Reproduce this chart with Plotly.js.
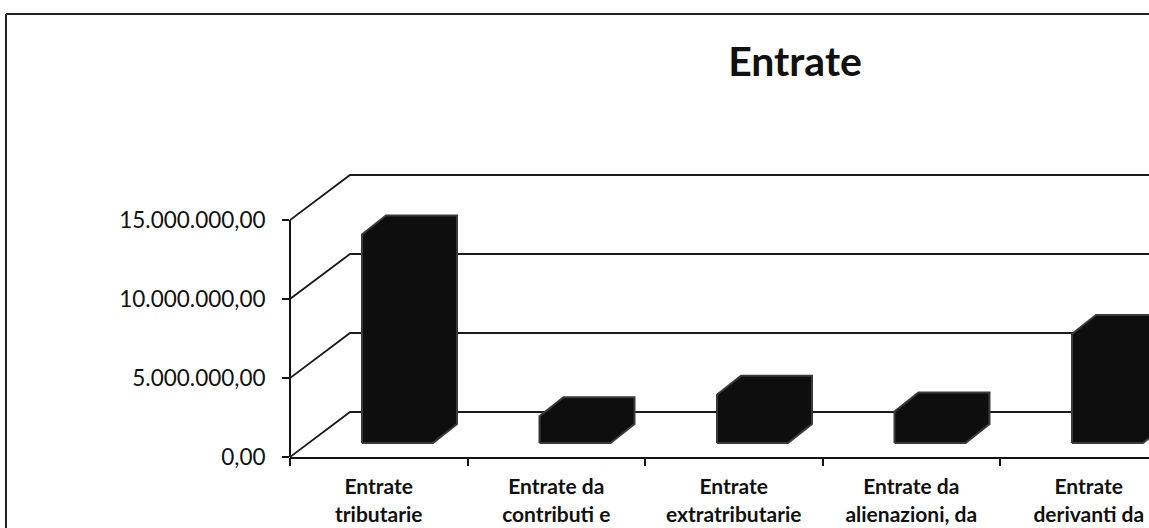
<!DOCTYPE html>
<html><head><meta charset="utf-8">
<script src="https://cdn.plot.ly/plotly-3.0.1.min.js"></script>
<style>html,body{margin:0;padding:0;background:#fff;}#chart{width:1149px;height:528px;}</style>
</head><body><div id="chart"></div>
<script>
// ---- data ----
const categories = ["Entrate<br>tributarie", "Entrate da<br>contributi e", "Entrate<br>extratributarie", "Entrate da<br>alienazioni, da", "Entrate<br>derivanti da"];
const values = [13200000, 1700000, 3050000, 2000000, 6900000];
const yTickValues = [0, 5000000, 10000000, 15000000];
const yTickLabels = ["0,00", "5.000.000,00", "10.000.000,00", "15.000.000,00"];
const chartTitle = "Entrate";

// ---- geometry (pixels) ----
const W = 1149, H = 528;
const plotLeft = 290, plotRight = 1149, plotBottom = 457, plotTop = 165;
const catPx = 177.5;
const pxPerUnit = 79 / 5000000;
const xPerPx = 1 / catPx;
const yPerPx = 1 / pxPerUnit;
const xRange = [-0.5, -0.5 + (plotRight - plotLeft) / catPx];
const yRange = [0, (plotBottom - plotTop) * yPerPx];
const plotH = plotBottom - plotTop, plotW = plotRight - plotLeft;

// back wall grid (3D offset)
const wallDx = 60 * xPerPx, wallDy = 45 * yPerPx;
const gx = [], gy = [];
yTickValues.forEach(v => {
  gx.push(xRange[0], xRange[0] + wallDx, xRange[1], null);
  gy.push(v, v + wallDy, v + wallDy, null);
});

// 3D bars (oblique boxes)
const barLeftOff = -16.75 * xPerPx, barFrontW = 71 * xPerPx;
const barDx = 24 * xPerPx, barDy = 19 * yPerPx, barBase = 14 * yPerPx;
const bx = [], by = [];
values.forEach((v, i) => {
  const xl = i + barLeftOff, b = barBase, t = barBase + v;
  bx.push(xl, xl, xl + barDx, xl + barFrontW + barDx, xl + barFrontW + barDx, xl + barFrontW, xl, null);
  by.push(b, t, t + barDy, t + barDy, b + barDy, b, b, null);
});

const dark = '#141414';
const traces = [
  {x: gx, y: gy, mode: 'lines', line: {color: '#1a1a1a', width: 1.8}, hoverinfo: 'skip', showlegend: false},
  {x: bx, y: by, mode: 'lines', fill: 'toself', fillcolor: '#0e0e0e', line: {color: '#3a3a3a', width: 2}, hoverinfo: 'skip', showlegend: false},
  {x: [0], y: [null], xaxis: 'x2', yaxis: 'y', mode: 'markers', hoverinfo: 'skip', showlegend: false}
];

const px2paperX = p => (p - plotLeft) / plotW;
const px2paperY = p => (plotBottom - p) / plotH;

const layout = {
  width: W, height: H,
  paper_bgcolor: '#fff', plot_bgcolor: '#fff',
  margin: {l: plotLeft, r: W - plotRight, t: plotTop, b: H - plotBottom, pad: 0},
  showlegend: false,
  title: {text: chartTitle, font: {family: 'Lato', size: 41, color: '#111', weight: 700},
          x: 795 / W, xanchor: 'center', xref: 'container', y: 1 - 62 / H, yanchor: 'middle', yref: 'container'},
  xaxis: {range: xRange, tickmode: 'array', tickvals: categories.map((_, i) => i), ticktext: categories,
          ticks: '', showline: true, linecolor: dark, linewidth: 2, showgrid: false, zeroline: false,
          tickfont: {family: 'Lato', size: 21, color: '#111', weight: 700}, ticklabelstandoff: 10, fixedrange: true},
  xaxis2: {overlaying: 'x', anchor: 'y', side: 'bottom', range: xRange, tickmode: 'array',
           tickvals: categories.map((_, i) => i - 0.5), ticks: 'outside', ticklen: 8, tickwidth: 2, tickcolor: dark,
           showticklabels: false, showgrid: false, zeroline: false, showline: false, fixedrange: true},
  yaxis: {range: yRange, tickmode: 'array', tickvals: yTickValues, ticktext: yTickLabels,
          ticks: 'outside', ticklen: 7, tickwidth: 2, tickcolor: dark, showline: false, showgrid: false, zeroline: false,
          tickfont: {family: 'Lato', size: 22.5, color: '#111'}, ticklabelstandoff: 12, fixedrange: true},
  shapes: [
    {type: 'line', xref: 'paper', yref: 'paper', x0: 0, x1: 0, y0: 0,
     y1: yTickValues[yTickValues.length - 1] / yRange[1], line: {color: dark, width: 2}},
    {type: 'line', xref: 'paper', yref: 'paper', x0: px2paperX(6), x1: px2paperX(W), y0: px2paperY(14), y1: px2paperY(14), line: {color: '#222', width: 2}},
    {type: 'line', xref: 'paper', yref: 'paper', x0: px2paperX(6), x1: px2paperX(6), y0: px2paperY(14), y1: px2paperY(H), line: {color: '#222', width: 2}}
  ]
};

Plotly.newPlot('chart', traces, layout, {displayModeBar: false, staticPlot: true});
</script>
</body></html>
